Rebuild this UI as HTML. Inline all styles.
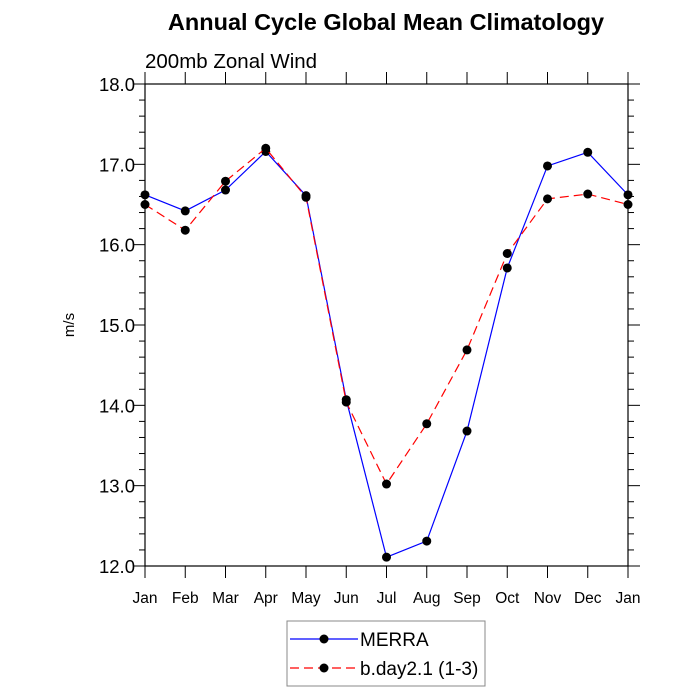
<!DOCTYPE html>
<html><head><meta charset="utf-8"><style>
body{margin:0;background:#fff;}
svg{display:block;font-family:"Liberation Sans",Arial,sans-serif;}
</style></head><body>
<svg id="chart" width="700" height="700" viewBox="0 0 700 700">
<text x="386" y="30" text-anchor="middle" font-size="23.5" font-weight="bold">Annual Cycle Global Mean Climatology</text>
<text x="145" y="68" font-size="20.5">200mb Zonal Wind</text>
<text transform="translate(74,325) rotate(-90)" text-anchor="middle" font-size="15">m/s</text>
<g id="axes"></g>
<g id="series"></g>
<g>
<rect x="287" y="621" width="198" height="65" fill="#fff" stroke="#888" stroke-width="1"/>
<line x1="290" y1="639" x2="358" y2="639" stroke="#0000ff" stroke-width="1.2"/>
<circle cx="324" cy="639" r="4.5" fill="#000"/>
<text x="360" y="646" font-size="19">MERRA</text>
<line x1="290" y1="668" x2="358" y2="668" stroke="#ff0000" stroke-width="1.2" stroke-dasharray="9,5"/>
<circle cx="324" cy="668" r="4.5" fill="#000"/>
<text x="360" y="675" font-size="19">b.day2.1 (1-3)</text>
</g>
</svg>
<script>
const months = ["Jan","Feb","Mar","Apr","May","Jun","Jul","Aug","Sep","Oct","Nov","Dec","Jan"];
const merra = [16.62,16.42,16.68,17.16,16.61,14.07,12.11,12.31,13.68,15.71,16.98,17.15,16.62];
const bday = [16.50,16.18,16.79,17.20,16.59,14.04,13.02,13.77,14.69,15.89,16.57,16.63,16.50];
const yTicks = [12.0,13.0,14.0,15.0,16.0,17.0,18.0];
const L=145,R=628,T=84,B=566,yMin=12,yMax=18;
const NS="http://www.w3.org/2000/svg";
const xs=i=>L+(R-L)*i/(months.length-1);
const ys=v=>B-(B-T)*(v-yMin)/(yMax-yMin);
function mk(tag,a,parent){const e=document.createElementNS(NS,tag);for(const k in a)e.setAttribute(k,a[k]);parent.appendChild(e);return e;}
const ax=document.getElementById('axes');
const frame=mk('rect',{x:L,y:T,width:R-L,height:B-T,fill:'none',stroke:'#000','stroke-width':1.2},ax);


months.forEach((m,i)=>{
  const x=xs(i);
  mk('line',{x1:x,y1:B,x2:x,y2:B+12,stroke:'#000'},ax);
  mk('line',{x1:x,y1:T,x2:x,y2:T-12,stroke:'#000'},ax);
  const t=mk('text',{x:x,y:B+37,'text-anchor':'middle','font-size':15.5},ax);
  t.textContent=m;
  
  
});
for(let v=yMin;v<=yMax+1e-6;v+=0.2){
  const y=ys(v);const major=Math.abs(v-Math.round(v))<1e-6;
  const len=major?12:6;
  mk('line',{x1:L,y1:y,x2:L-len,y2:y,stroke:'#000'},ax);
  mk('line',{x1:R,y1:y,x2:R+len,y2:y,stroke:'#000'},ax);
}
yTicks.forEach(v=>{
  const t=mk('text',{x:L-10,y:ys(v)+7,'text-anchor':'end','font-size':18.5},ax);
  t.textContent=v.toFixed(1);
  
  
});
const sg=document.getElementById('series');
function draw(vals,color,dash,name){
  const p=mk('polyline',{points:vals.map((v,i)=>xs(i)+','+ys(v)).join(' '),fill:'none',stroke:color,'stroke-width':1.2,'stroke-dasharray':dash},sg);
  
  
  vals.forEach((v,i)=>{
    const c=mk('circle',{cx:xs(i),cy:ys(v),r:4.5,fill:'#000'},sg);
    
    
  });
}
draw(merra,'#0000ff','none','merra');
draw(bday,'#ff0000','9,5','bday');
</script>
</body></html>
